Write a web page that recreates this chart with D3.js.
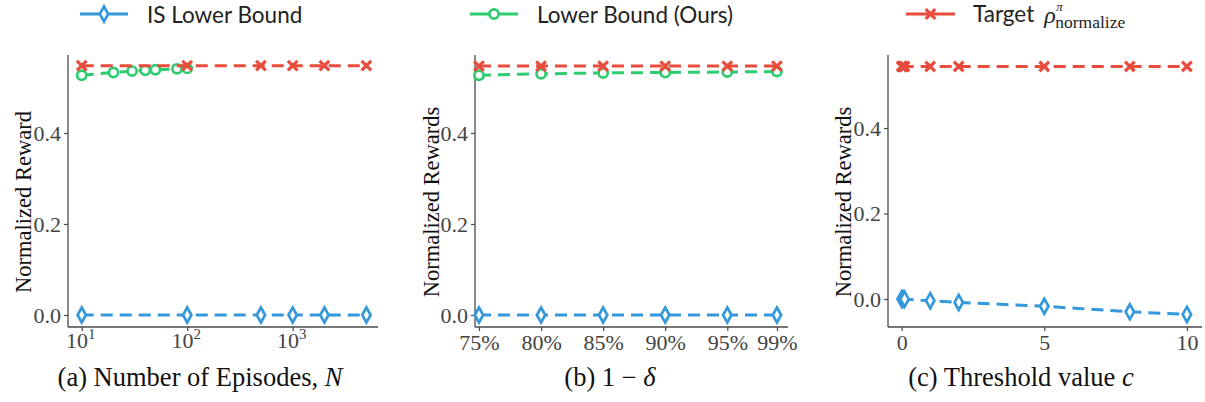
<!DOCTYPE html>
<html><head><meta charset="utf-8">
<script src="https://cdn.jsdelivr.net/npm/d3@7"></script>
<style>
body{margin:0;background:#fff;}
svg{display:block;}
</style></head>
<body>
<svg id="fig" width="1205" height="402"></svg>
<script>
// ---------- data ----------
const seriesNames = ["IS Lower Bound", "Lower Bound (Ours)", "Target"];
// (a) number of episodes N
const aIS_N = [10, 100, 500, 1000, 2000, 5000];
const aIS_V = [0, 0, 0, 0, 0, 0];
const aLB_N = [10, 20, 30, 40, 50, 80, 100];
const aLB_V = [0.527, 0.533, 0.536, 0.538, 0.539, 0.541, 0.542];
const aT_N = [10, 100, 500, 1000, 2000, 5000];
const aT_V = [0.548, 0.548, 0.548, 0.548, 0.548, 0.548];
const aTicks = [10, 100, 1000];
// (b) 1 - delta
const bX = [0.75, 0.80, 0.85, 0.90, 0.95, 0.99];
const bIS_V = [0, 0, 0, 0, 0, 0];
const bLB_V = [0.527, 0.530, 0.532, 0.533, 0.534, 0.535];
const bT_V = [0.547, 0.547, 0.547, 0.547, 0.547, 0.547];
const bTickLabels = ["75%", "80%", "85%", "90%", "95%", "99%"];
// (c) threshold c
const cX = [0, 0.01, 0.05, 0.1, 1, 2, 5, 8, 10];
const cIS_V = [0, 0, -0.0002, -0.0004, -0.004, -0.008, -0.017, -0.030, -0.036];
const cT_V = [0.544, 0.544, 0.544, 0.544, 0.544, 0.544, 0.544, 0.544, 0.544];
const cTicks = [0, 5, 10];
const yTicks = [0.0, 0.2, 0.4];

// ---------- style ----------
const colors = {is: "#3498db", lb: "#2ecc71", t: "#e74c3c"};
const serif = "'Liberation Serif','Times New Roman',serif";
const sans = "Lato,'DejaVu Sans',sans-serif";
const axisColor = "#4a4a4a";
const tickColor = "#444";

const svg = d3.select("#fig");

function markerDiamond(g, x, y, c) {
  g.append("path")
    .attr("d", `M${x},${y-7.5}L${x+4.2},${y}L${x},${y+7.5}L${x-4.2},${y}Z`)
    .attr("fill", "#fff").attr("stroke", c).attr("stroke-width", 2.7);
}
function markerCircle(g, x, y, c) {
  g.append("circle").attr("cx", x).attr("cy", y).attr("r", 4.6)
    .attr("fill", "#fff").attr("stroke", c).attr("stroke-width", 2.7);
}
function markerX(g, x, y, c) {
  const s = 4.8;
  g.append("path").attr("d", `M${x-s},${y-s}L${x+s},${y+s}M${x-s},${y+s}L${x+s},${y-s}`)
    .attr("stroke", c).attr("stroke-width", 3.2).attr("stroke-linecap", "butt");
}

function drawSeries(g, xs, ys, x, y, c, marker) {
  const pts = xs.map((d, i) => [x(d), y(ys[i])]);
  g.append("path").attr("d", d3.line()(pts)).attr("fill", "none")
    .attr("stroke", c).attr("stroke-width", 3).attr("stroke-dasharray", "12,7");
  const mg = g.append("g");
  pts.forEach(p => marker(mg, p[0], p[1], c));
}

function panel(opts) {
  const g = svg.append("g");
  const {left, right, pTop, pBot, x, y} = opts;
  // y axis
  const ya = g.append("g").attr("transform", `translate(${left},0)`)
    .call(d3.axisLeft(y).tickValues(yTicks).tickFormat(d3.format(".1f")).tickSize(4).tickPadding(3));
  ya.select(".domain").remove();
  g.append("line").attr("x1", left).attr("x2", left).attr("y1", pTop).attr("y2", pBot)
    .attr("stroke", axisColor).attr("stroke-width", 1.3);
  ya.selectAll(".tick line").attr("stroke", axisColor).attr("stroke-width", 1.2);
  ya.selectAll(".tick text").attr("font-family", serif).attr("font-size", 22).attr("fill", tickColor);
  // x axis
  const xa = g.append("g").attr("transform", `translate(0,${pBot})`).call(opts.xAxis);
  xa.select(".domain").remove();
  g.append("line").attr("x1", left).attr("x2", right).attr("y1", pBot).attr("y2", pBot)
    .attr("stroke", axisColor).attr("stroke-width", 1.3);
  xa.selectAll(".tick line").attr("stroke", axisColor).attr("stroke-width", 1.2);
  xa.selectAll(".tick text").attr("font-family", serif).attr("font-size", 22).attr("fill", tickColor);
  // y label
  g.append("text").attr("transform", `translate(${opts.ylabX},${(pTop + pBot) / 2 + 11}) rotate(-90)`)
    .attr("text-anchor", "middle").attr("font-family", serif).attr("font-size", 22.5)
    .attr("fill", "#111").text(opts.ylabel);
  // caption
  const cap = g.append("text").attr("x", opts.capX).attr("y", 386).attr("text-anchor", "middle")
    .attr("font-family", serif).attr("font-size", 26.5).attr("fill", "#111");
  opts.caption(cap);
  return g;
}

const pTop = 55, pBot = 327;

// ----- panel (a) -----
{
  const left = 68, right = 378;
  const x = d3.scaleLog().domain([7.41, 6442]).range([left, right]);
  const y = d3.scaleLinear().domain([-0.0264, 0.5714]).range([pBot, pTop]);
  const minor = [];
  for (let e = 1; e <= 3; e++) for (let k = 2; k <= 9; k++) { const v = k * Math.pow(10, e); if (v < 6442) minor.push(v); }
  const xAxis = sel => {
    sel.call(d3.axisBottom(x).tickValues(minor).tickFormat("").tickSize(2.5));
    sel.call(d3.axisBottom(x).tickValues(aTicks).tickFormat("").tickSize(4));
  };
  const g = panel({left, right, pTop, pBot, x, y, xAxis, ylabX: 31, ylabel: "Normalized Reward", capX: 200,
    caption: t => { t.append("tspan").text("(a) Number of Episodes, "); t.append("tspan").attr("font-style", "italic").text("N"); }});
  // x tick labels with superscripts
  aTicks.forEach(v => {
    const t = g.append("text").attr("x", x(v) - 1).attr("y", 348).attr("text-anchor", "middle")
      .attr("font-family", serif).attr("font-size", 22).attr("fill", tickColor);
    t.append("tspan").text("10");
    t.append("tspan").attr("font-size", 15).attr("dy", -9).text(Math.round(Math.log10(v)));
  });
  drawSeries(g, aIS_N, aIS_V, x, y, colors.is, markerDiamond);
  drawSeries(g, aLB_N, aLB_V, x, y, colors.lb, markerCircle);
  drawSeries(g, aT_N, aT_V, x, y, colors.t, markerX);
}

// ----- panel (b) -----
{
  const left = 475, right = 788;
  const x = d3.scaleLinear().domain([0.7468, 0.9989]).range([left, right]);
  const y = d3.scaleLinear().domain([-0.0264, 0.5714]).range([pBot, pTop]);
  const xAxis = sel => sel.call(d3.axisBottom(x).tickValues(bX).tickFormat((d, i) => bTickLabels[i]).tickSize(4).tickPadding(3));
  const g = panel({left, right, pTop, pBot, x, y, xAxis, ylabX: 439, ylabel: "Normalized Rewards", capX: 610,
    caption: t => { t.append("tspan").text("(b) 1 \u2212 "); t.append("tspan").attr("font-style", "italic").text("\u03b4"); }});
  drawSeries(g, bX, bIS_V, x, y, colors.is, markerDiamond);
  drawSeries(g, bX, bLB_V, x, y, colors.lb, markerCircle);
  drawSeries(g, bX, bT_V, x, y, colors.t, markerX);
}

// ----- panel (c) -----
{
  const left = 888, right = 1202;
  const x = d3.scaleLinear().domain([-0.48, 10.53]).range([left, right]);
  const y = d3.scaleLinear().domain([-0.0655, 0.5708]).range([pBot, pTop]);
  const xAxis = sel => sel.call(d3.axisBottom(x).tickValues(cTicks).tickFormat(d3.format("d")).tickSize(4).tickPadding(3));
  const g = panel({left, right, pTop, pBot, x, y, xAxis, ylabX: 851, ylabel: "Normalized Rewards", capX: 1021,
    caption: t => { t.append("tspan").text("(c) Threshold value "); t.append("tspan").attr("font-style", "italic").text("c"); }});
  drawSeries(g, cX, cIS_V, x, y, colors.is, markerDiamond);
  drawSeries(g, cX, cT_V, x, y, colors.t, markerX);
}

// ----- legend -----
const legend = svg.append("g");
const legItems = [
  {x0: 80, x1: 128, tx: 147, c: colors.is, m: markerDiamond},
  {x0: 470, x1: 518, tx: 537, c: colors.lb, m: markerCircle},
  {x0: 906, x1: 955, tx: 973, c: colors.t, m: markerX}
];
let targetEnd = 1033;
legItems.forEach((it, i) => {
  legend.append("line").attr("x1", it.x0).attr("x2", it.x1).attr("y1", 14).attr("y2", 14)
    .attr("stroke", it.c).attr("stroke-width", 3);
  it.m(legend, (it.x0 + it.x1) / 2, 14, it.c);
  const t = legend.append("text").attr("x", it.tx).attr("y", i === 2 ? 22 : 23).attr("font-family", sans)
    .attr("font-size", 22.5).attr("fill", "#222").text(seriesNames[i]);
  if (i === 2) targetEnd = it.tx + t.node().getComputedTextLength();
});
// target math symbol
const rx = targetEnd + 10;
legend.append("text").attr("x", rx).attr("y", 23).attr("font-family", serif).attr("font-style", "italic")
  .attr("font-size", 24).attr("fill", "#222").text("\u03c1");
legend.append("text").attr("x", rx + 12).attr("y", 11).attr("font-family", serif).attr("font-style", "italic")
  .attr("font-size", 13).attr("fill", "#222").text("\u03c0");
legend.append("text").attr("x", rx + 11).attr("y", 28).attr("font-family", serif)
  .attr("font-size", 17.5).attr("fill", "#222").text("normalize");
</script>
</body></html>
